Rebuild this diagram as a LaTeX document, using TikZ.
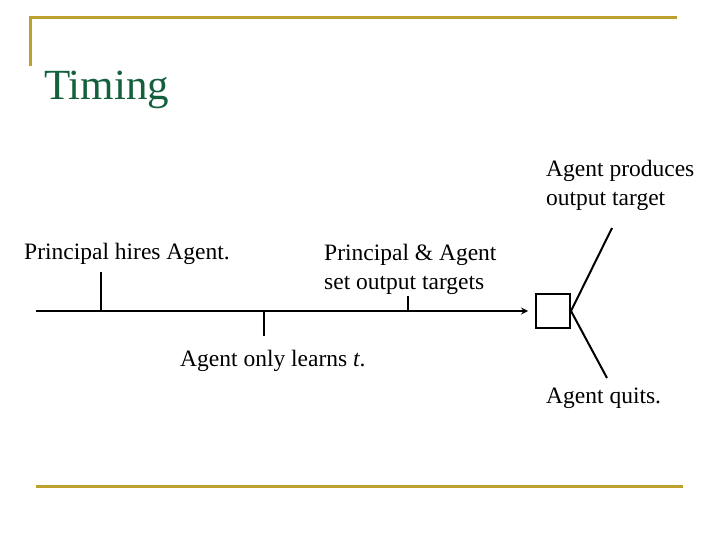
\documentclass[tikz,border=0pt]{standalone}
\usepackage{fontspec}
\setmainfont{Liberation Serif}
\definecolor{gold}{RGB}{190,160,45}
\definecolor{titlegreen}{RGB}{20,95,60}
\begin{document}
\begin{tikzpicture}[
x=1pt, y=-1pt,
label/.style={anchor=west, align=left, inner sep=0pt, font=\fontsize{23.5}{29}\selectfont},
rule/.style={draw=gold, line width=3pt},
line/.style={line width=2pt},
arrow/.style={-stealth, line width=2pt}
]
\useasboundingbox (0,0) rectangle (720,540);

% frame
\draw[rule] (30,66) -- (30,18) -- (677,18);
\draw[rule] (36,486) -- (683,486);
\node[anchor=base west, inner sep=0pt, text=titlegreen, font=\fontsize{43}{50}\selectfont] (title) at (44,100) {Timing};

% timeline
\coordinate (start) at (36,311);
\coordinate (end) at (528,311);
\node[draw, line width=2pt, minimum size=34pt, inner sep=0pt] (box) at (553,311) {};
\draw[arrow] (start) -- (end);

\coordinate (hire) at (101,311);
\coordinate (learn) at (264,311);
\coordinate (set) at (408,311);
\draw[line] (hire) -- ++(0,-39);
\draw[line] (learn) -- ++(0,25);
\draw[line] (set) -- ++(0,-15);

\coordinate (up) at (612,228);
\coordinate (down) at (607,378);
\draw[line] (box.east) -- (up);
\draw[line] (box.east) -- (down);

% labels
\node[label] (hirelbl) at (24,254) {Principal hires Agent.};
\node[label] (setlbl) at (324,269) {Principal \& Agent\\set output targets};
\node[label] (learnlbl) at (180,361) {Agent only learns \textit{t}.};
\node[label] (produce) at (546,185) {Agent produces\\output target};
\node[label] (quit) at (546,398) {Agent quits.};

\end{tikzpicture}
\end{document}
